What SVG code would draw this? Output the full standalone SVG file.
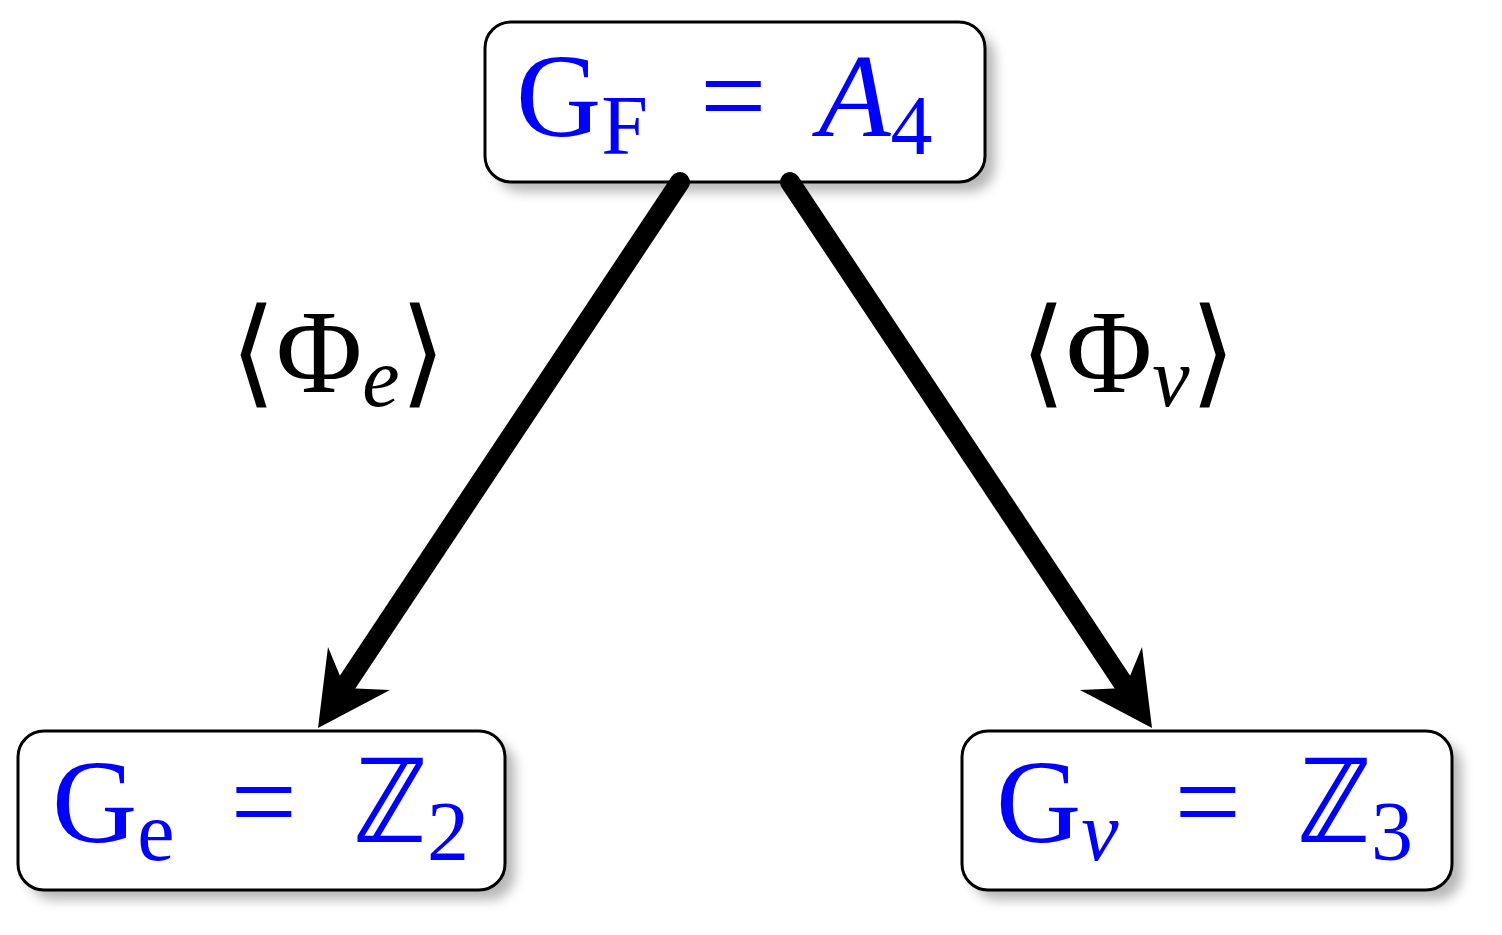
<svg xmlns="http://www.w3.org/2000/svg" width="1502" height="935" viewBox="0 0 1502 935">
<defs>
<filter id="sh" x="-10%" y="-20%" width="130%" height="150%"><feGaussianBlur stdDeviation="6"/></filter>
<style>
.box{fill:#fff;stroke:#000;stroke-width:3}
.shadow{fill:#888;opacity:0.6;filter:url(#sh)}
.t{font-family:"Liberation Serif",serif;fill:#0000ff;font-size:118px}
.l{font-family:"Liberation Serif",serif;fill:#000;font-size:118px}
.ln{stroke:#000;stroke-width:20;stroke-linecap:round;fill:none}
</style>
</defs>
<g id="top">
<rect class="shadow" x="495" y="32" width="500" height="160" rx="26"/>
<rect class="box" x="485" y="22" width="500" height="160" rx="26"/>
<text class="t" x="516" y="136">G<tspan font-size="84" dy="18">F</tspan><tspan dy="-18" dx="52">=</tspan><tspan dx="52" font-style="italic">A</tspan><tspan font-size="84" dy="18">4</tspan></text>
</g>
<g id="left">
<rect class="shadow" x="28" y="741" width="487" height="159" rx="26"/>
<rect class="box" x="18" y="731" width="487" height="159" rx="26"/>
<text class="t" x="52" y="842">G<tspan font-size="84" dy="18">e</tspan><tspan dy="-18" dx="56">=</tspan><tspan dx="56">ℤ</tspan><tspan font-size="84" dy="18">2</tspan></text>
</g>
<g id="right">
<rect class="shadow" x="972" y="741" width="490" height="159" rx="26"/>
<rect class="box" x="962" y="731" width="490" height="159" rx="26"/>
<text class="t" x="996" y="842">G<tspan font-size="84" dy="18" font-style="italic">ν</tspan><tspan dy="-18" dx="56">=</tspan><tspan dx="56">ℤ</tspan><tspan font-size="84" dy="18">3</tspan></text>
</g>
<g id="connectors">
<path class="ln" d="M680,182 L345,686"/>
<path d="M318,728 L328,647 L345,688 L390,690 Z" fill="#000"/>
<path class="ln" d="M790,182 L1125,686"/>
<path d="M1152,728 L1142,647 L1125,688 L1080,690 Z" fill="#000"/>
</g>
<g id="labels">
<text class="l" x="230" y="392">⟨Φ<tspan font-size="84" dy="14" font-style="italic">e</tspan><tspan dy="-14">⟩</tspan></text>
<text class="l" x="1020" y="392">⟨Φ<tspan font-size="84" dy="14" font-style="italic">ν</tspan><tspan dy="-14">⟩</tspan></text>
</g>
</svg>
